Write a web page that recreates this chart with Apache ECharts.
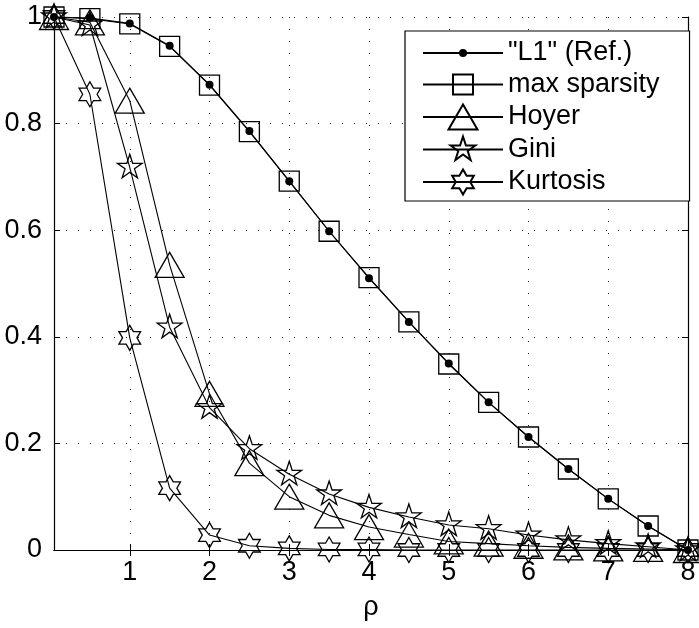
<!DOCTYPE html>
<html>
<head>
<meta charset="utf-8">
<script src="https://cdn.jsdelivr.net/npm/echarts@6/dist/echarts.min.js"></script>
<style>
  html, body { margin: 0; padding: 0; background: #fff; }
  #chart { width: 699px; height: 628px; }
</style>
</head>
<body>
<div id="chart"></div>
<script>
// Sparsity measures as a function of rho
const rho = [0.05, 0.5, 1, 1.5, 2, 2.5, 3, 3.5, 4, 4.5, 5, 5.5, 6, 6.5, 7, 7.5, 8];
const l1Ref       = [1.0, 0.998, 0.988, 0.946, 0.873, 0.786, 0.692, 0.598, 0.510, 0.428, 0.350, 0.277, 0.212, 0.152, 0.096, 0.045, 0.0];
const maxSparsity = [1.0, 0.997, 0.987, 0.945, 0.872, 0.785, 0.692, 0.598, 0.511, 0.428, 0.349, 0.277, 0.212, 0.152, 0.096, 0.045, 0.0];
const hoyer       = [1.0, 0.990, 0.843, 0.535, 0.293, 0.163, 0.100, 0.065, 0.043, 0.029, 0.016, 0.012, 0.008, 0.005, 0.003, 0.002, 0.0];
const gini        = [1.0, 0.985, 0.718, 0.418, 0.267, 0.190, 0.142, 0.105, 0.080, 0.062, 0.047, 0.040, 0.028, 0.019, 0.012, 0.006, 0.0];
const kurtosis    = [1.0, 0.855, 0.398, 0.116, 0.028, 0.008, 0.003, 0.001, 0.001, 0.0, 0.0, 0.0, 0.0, 0.0, 0.0, 0.0, 0.0];

const seriesNames = ['"L1" (Ref.)', 'max sparsity', 'Hoyer', 'Gini', 'Kurtosis'];
const xTicks = [1, 2, 3, 4, 5, 6, 7, 8];

const FONT = '"Liberation Sans", Arial, Helvetica, sans-serif';
const FS = 27;

// Marker outlines drawn inside a common 30x30 box so that the
// chart markers and legend markers share the same scale.
const BOX = 'M0 0 M30 30 ';
function starPath(n, R, r) {
  let d = '';
  for (let i = 0; i < 2 * n; i++) {
    const a = -Math.PI / 2 + i * Math.PI / n;
    const rad = i % 2 === 0 ? R : r;
    const x = (15 + rad * Math.cos(a)).toFixed(2);
    const y = (15 + rad * Math.sin(a)).toFixed(2);
    d += (i === 0 ? 'M' : 'L') + x + ' ' + y + ' ';
  }
  return d + 'Z';
}
const SYM = {
  dot: 'path://' + BOX + 'M19 15 A4 4 0 0 1 11 15 A4 4 0 0 1 19 15 Z',
  square: 'path://' + BOX + 'M5 5 L25 5 L25 25 L5 25 Z',
  triangle: 'path://' + BOX + 'M15 2.5 L29.5 27.5 L0.5 27.5 Z',
  pentagram: 'path://' + BOX + starPath(5, 13, 13 * 0.382),
  hexagram: 'path://' + BOX + starPath(6, 12.5, 12.5 / Math.sqrt(3))
};

function pairs(ys) { return rho.map((x, i) => [x, ys[i]]); }

function makeSeries(name, ys, symbol, filled) {
  return {
    name: name,
    type: 'line',
    data: pairs(ys),
    symbol: symbol,
    symbolSize: 30,
    showAllSymbol: true,
    clip: false,
    lineStyle: { color: '#000', width: 1.1 },
    itemStyle: {
      color: filled ? '#000' : 'rgba(0,0,0,0)',
      borderColor: '#000',
      borderWidth: filled ? 0 : 1.3
    },
    emphasis: { disabled: true },
    silent: true
  };
}

const tickStyle = { show: true, inside: true, length: 6, lineStyle: { color: '#000', width: 1 } };
const lineStyle = { show: true, lineStyle: { color: '#000', width: 1.2 } };
const gridDots = { show: true, lineStyle: { color: '#222', width: 1, type: [1, 11] } };

const chart = echarts.init(document.getElementById('chart'), null, { renderer: 'canvas' });
chart.setOption({
  animation: false,
  backgroundColor: '#fff',
  textStyle: { fontFamily: FONT },
  grid: { left: 54, right: 11, top: 17, bottom: 78, containLabel: false },
  xAxis: [
    {
      type: 'value', position: 'bottom', min: 0.05, max: 8,
      name: 'ρ', nameLocation: 'middle', nameGap: 44,
      nameTextStyle: { color: '#000', fontSize: FS, fontFamily: FONT },
      axisLine: lineStyle,
      axisTick: Object.assign({ customValues: xTicks }, tickStyle),
      axisLabel: { customValues: xTicks, color: '#000', fontSize: FS, fontFamily: FONT, margin: 9 },
      splitLine: gridDots
    },
    {
      type: 'value', position: 'top', min: 0.05, max: 8,
      axisLine: lineStyle,
      axisTick: Object.assign({ customValues: xTicks }, tickStyle),
      axisLabel: { show: false },
      splitLine: { show: false }
    }
  ],
  yAxis: [
    {
      type: 'value', position: 'left', min: 0, max: 1, interval: 0.2,
      axisLine: lineStyle,
      axisTick: tickStyle,
      axisLabel: {
        color: '#000', fontSize: FS, fontFamily: FONT, margin: 12,
        formatter: v => String(Math.round(v * 10) / 10)
      },
      splitLine: gridDots
    },
    {
      type: 'value', position: 'right', min: 0, max: 1, interval: 0.2,
      axisLine: lineStyle,
      axisTick: tickStyle,
      axisLabel: { show: false },
      splitLine: { show: false }
    }
  ],
  legend: {
    orient: 'vertical',
    left: 405, top: 31,
    padding: [7, 30, 3, 17],
    itemWidth: 80,
    itemHeight: 37.5,
    itemGap: 0.5,
    backgroundColor: '#fff',
    borderColor: '#000',
    borderWidth: 1.2,
    borderRadius: 0,
    selectedMode: false,
    textStyle: { color: '#000', fontSize: FS, fontFamily: FONT },
    data: seriesNames
  },
  series: [
    makeSeries(seriesNames[0], l1Ref, SYM.dot, true),
    makeSeries(seriesNames[1], maxSparsity, SYM.square, false),
    makeSeries(seriesNames[2], hoyer, SYM.triangle, false),
    makeSeries(seriesNames[3], gini, SYM.pentagram, false),
    makeSeries(seriesNames[4], kurtosis, SYM.hexagram, false)
  ]
});
</script>
</body>
</html>
